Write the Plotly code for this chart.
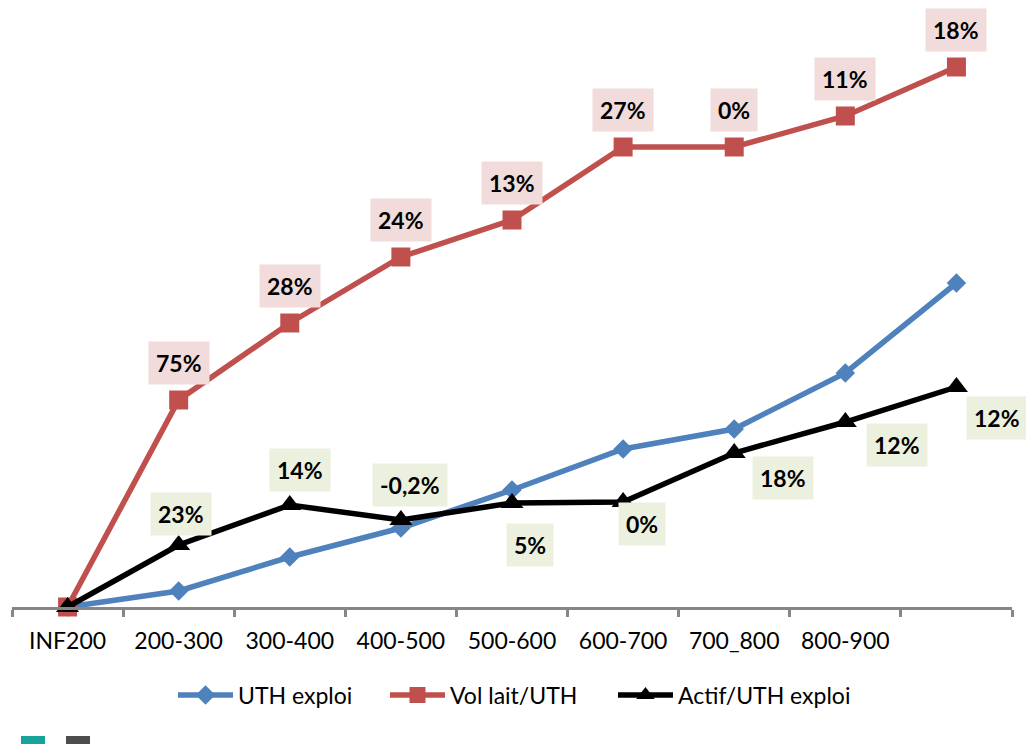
import plotly.graph_objects as go

# Size classes (the last class has no printed label)
categories = ["INF200", "200-300", "300-400", "400-500", "500-600",
              "600-700", "700_800", "800-900", ""]

# Index values, base 100 for the INF200 class
uth_exploi = [100, 108, 125, 139.5, 158.5, 179, 189, 217, 262]
vol_lait_uth = [100, 203.5, 242, 275, 293.5, 330, 330, 345.5, 370]
actif_uth = [100, 131, 151, 143.5, 152, 152.5, 177, 192.5, 210]

# Change from one class to the next, printed next to the points
vol_lait_labels = [None, "75%", "28%", "24%", "13%", "27%", "0%", "11%", "18%"]
actif_labels = [None, "23%", "14%", "-0,2%", "5%", "0%", "18%", "12%", "12%"]

# Label placement (pixel offsets from each point)
vol_lait_shift = [(0, 37)] * 9
actif_shift = [(0, 0), (2, 31), (10, 35), (9, 35), (18, -42),
               (19, -22), (49, -25), (52, -23), (41, -31)]

BLUE = "#4F81BD"
RED = "#C0504D"
BLACK = "#000000"
FONT = "Lato"

x = list(range(len(categories)))

fig = go.Figure()
fig.add_trace(go.Scatter(
    x=x, y=uth_exploi, name="UTH exploi", mode="lines+markers",
    line=dict(color=BLUE, width=5.5),
    marker=dict(symbol="diamond", size=15, color=BLUE),
    cliponaxis=False, legend="legend"))
fig.add_trace(go.Scatter(
    x=x, y=vol_lait_uth, name="Vol lait/UTH", mode="lines+markers",
    line=dict(color=RED, width=5.5),
    marker=dict(symbol="square", size=19, color=RED),
    cliponaxis=False, legend="legend2"))
fig.add_trace(go.Scatter(
    x=x, y=actif_uth, name="Actif/UTH exploi", mode="lines+markers",
    line=dict(color=BLACK, width=5.5),
    marker=dict(symbol="triangle-up", size=20, color=BLACK),
    cliponaxis=False, legend="legend3"))

annotations = []
for i, (lab, (dx, dy)) in enumerate(zip(vol_lait_labels, vol_lait_shift)):
    if lab is None:
        continue
    annotations.append(dict(
        x=x[i], y=vol_lait_uth[i], text=lab, showarrow=False,
        xshift=dx, yshift=dy, bgcolor="#F2DCDB", borderpad=7,
        font=dict(family=FONT, size=23, color="black", weight="bold")))
for i, (lab, (dx, dy)) in enumerate(zip(actif_labels, actif_shift)):
    if lab is None:
        continue
    annotations.append(dict(
        x=x[i], y=actif_uth[i], text=lab, showarrow=False,
        xshift=dx, yshift=dy, bgcolor="#EBF1DE", borderpad=7,
        font=dict(family=FONT, size=23, color="black", weight="bold")))

# Two small coloured blocks at the lower left edge
shapes = [
    dict(type="rect", xref="paper", yref="paper",
         x0=(21 - 12) / 1000, x1=(45 - 12) / 1000,
         y0=(607 - 744) / 607, y1=(607 - 736) / 607,
         fillcolor="#17A39A", line=dict(width=0)),
    dict(type="rect", xref="paper", yref="paper",
         x0=(66 - 12) / 1000, x1=(90 - 12) / 1000,
         y0=(607 - 744) / 607, y1=(607 - 736) / 607,
         fillcolor="#4D4D4D", line=dict(width=0)),
]


def legend_box(left_px):
    return dict(orientation="h", x=(left_px - 12) / 1000, xanchor="left",
                y=(607 - 695) / 607, yanchor="middle",
                itemwidth=55, font=dict(family=FONT, size=23),
                bgcolor="rgba(0,0,0,0)")


fig.update_layout(
    width=1026, height=744,
    margin=dict(l=12, r=14, t=0, b=137),
    paper_bgcolor="white", plot_bgcolor="white",
    font=dict(family=FONT, size=23, color="black"),
    showlegend=True,
    legend=legend_box(173),
    legend2=legend_box(385),
    legend3=legend_box(613),
    annotations=annotations,
    shapes=shapes,
    xaxis=dict(
        range=[-0.5, 8.5], tickmode="array", tickvals=x, ticktext=categories,
        showline=True, linecolor="#868686", linewidth=2.5,
        showgrid=False, zeroline=False,
        ticks="outside", ticklen=12, tickcolor="rgba(0,0,0,0)",
        tickfont=dict(family=FONT, size=23, color="black"),
        minor=dict(tick0=-0.5, dtick=1, ticks="outside", ticklen=7,
                   tickcolor="#868686", tickwidth=2.5, showgrid=False),
        fixedrange=True),
    yaxis=dict(range=[100, 403.5], visible=False, showgrid=False,
               zeroline=False, fixedrange=True),
)

fig.write_html("out.html")
